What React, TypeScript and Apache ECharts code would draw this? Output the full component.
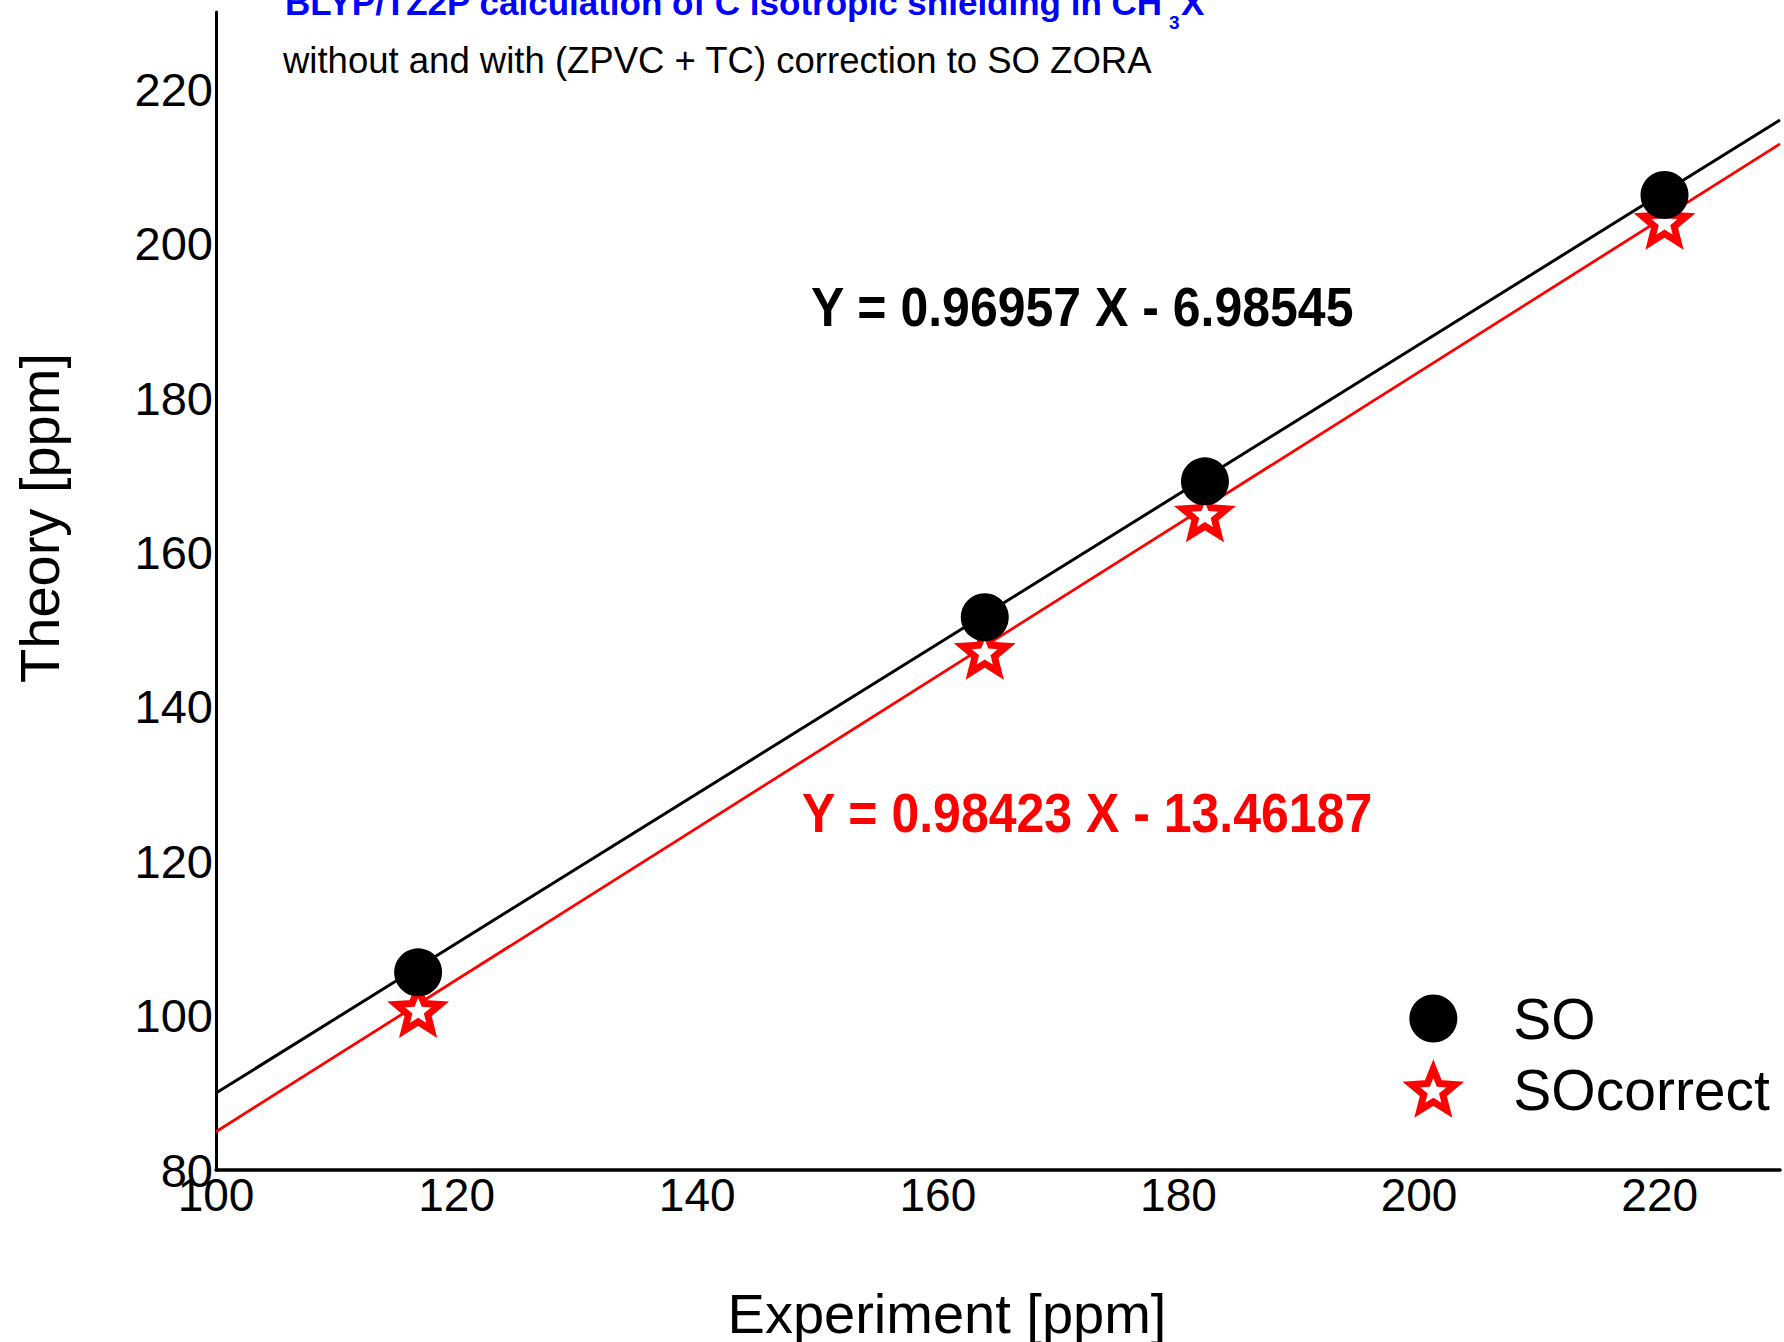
import React, { useEffect, useRef } from 'react';
import * as echarts from 'echarts';

// ---- data ----
const experiment = [116.8, 163.9, 182.2, 220.4];
const theorySO = [105.6, 151.6, 169.2, 206.3];
const theorySOcorrect = [100.8, 147.2, 165.0, 202.9];
const fitX = [100, 230];
const fitSO = [89.97, 216.02];
const fitSOcorrect = [84.96, 212.91];
const xTicks = [100, 120, 140, 160, 180, 200, 220];
const yTicks = [80, 100, 120, 140, 160, 180, 200, 220];
const xMax = 230;
const yMax = 230;
const seriesNames = ['SO', 'SOcorrect'];
const eqSO = 'Y = 0.96957 X - 6.98545';
const eqCorrect = 'Y = 0.98423 X - 13.46187';
const titleMain = 'BLYP/TZ2P calculation of C isotropic shielding in CH';
const titleSub = '3';
const titleTail = 'X';
const subtitle = 'without and with (ZPVC + TC) correction to SO ZORA';
const xName = 'Experiment [ppm]';
const yName = 'Theory [ppm]';

const FONT = '"Liberation Sans", Arial, Helvetica, sans-serif';
const STAR_D =
  'M50 0 L62.93 32.2 L97.55 34.55 L70.92 56.8 L79.39 90.45 L50 72 L20.61 90.45 L29.08 56.8 L2.45 34.55 L37.07 32.2 Z';
const STAR = 'path://' + STAR_D;
// legend icon: same star, with invisible bounds so it is drawn a little smaller in its box
const STAR_LEGEND = 'path://M50 -7 Z M50 97.5 Z ' + STAR_D;

function txt(x: number, y: number, text: string, size: number, color: string, weight: string, extra: any = {}) {
  return {
    type: 'text',
    x,
    y,
    ...extra,
    style: {
      text,
      fontSize: size,
      fontWeight: weight,
      fontFamily: FONT,
      fill: color,
      textAlign: extra.align || 'left',
      align: extra.align || 'left',
      textVerticalAlign: 'middle',
      verticalAlign: 'middle',
    },
  };
}

export default function App() {
  const ref = useRef<HTMLDivElement>(null);
  useEffect(() => {
    if (!ref.current) return;
    const chart = echarts.init(ref.current, null, { renderer: 'svg' });
    const labelFmt = (v: number) => (v % 20 === 0 ? String(v) : '');
    chart.setOption({
      animation: false,
      backgroundColor: '#ffffff',
      grid: { left: 216, right: 4, top: 12, bottom: 172, containLabel: false },
      xAxis: {
        type: 'value',
        min: xTicks[0],
        max: xMax,
        interval: xTicks[1] - xTicks[0],
        axisLine: { onZero: false, lineStyle: { color: '#000', width: 3.5 } },
        axisTick: { show: false },
        splitLine: { show: false },
        axisLabel: {
          fontSize: 46,
          fontFamily: FONT,
          color: '#000',
          margin: 2,
          showMaxLabel: false,
          formatter: labelFmt,
        },
      },
      yAxis: {
        type: 'value',
        min: yTicks[0],
        max: yMax,
        interval: yTicks[1] - yTicks[0],
        axisLine: { show: true, onZero: false, lineStyle: { color: '#000', width: 3 } },
        axisTick: { show: false },
        splitLine: { show: false },
        axisLabel: {
          fontSize: 47,
          fontFamily: FONT,
          color: '#000',
          margin: 3,
          showMaxLabel: false,
          formatter: labelFmt,
        },
      },
      legend: {
        orient: 'vertical',
        left: 1408,
        top: 990,
        itemWidth: 150,
        itemHeight: 48,
        itemGap: 14,
        padding: 0,
        textStyle: { fontSize: 57, color: '#000', fontFamily: FONT },
        data: [
          { name: seriesNames[0], icon: 'circle', itemStyle: { color: '#000', borderWidth: 0 } },
          {
            name: seriesNames[1],
            icon: STAR_LEGEND,
            itemStyle: { color: '#fff', borderColor: '#ff0000', borderWidth: 7 },
          },
        ],
      },
      series: [
        {
          name: 'fitSO',
          type: 'line',
          data: fitX.map((x, i) => [x, fitSO[i]]),
          showSymbol: false,
          symbol: 'none',
          silent: true,
          lineStyle: { color: '#000', width: 3 },
          z: 1,
        },
        {
          name: 'fitSOcorrect',
          type: 'line',
          data: fitX.map((x, i) => [x, fitSOcorrect[i]]),
          showSymbol: false,
          symbol: 'none',
          silent: true,
          lineStyle: { color: '#ff0000', width: 2.8 },
          z: 1,
        },
        {
          name: seriesNames[1],
          type: 'scatter',
          data: experiment.map((x, i) => [x, theorySOcorrect[i]]),
          symbol: STAR,
          symbolSize: 44,
          symbolKeepAspect: true,
          itemStyle: { color: '#fff', borderColor: '#ff0000', borderWidth: 7, opacity: 1 },
          z: 3,
        },
        {
          name: seriesNames[0],
          type: 'scatter',
          data: experiment.map((x, i) => [x, theorySO[i]]),
          symbol: 'circle',
          symbolSize: 48,
          itemStyle: { color: '#000', opacity: 1 },
          z: 4,
        },
      ],
      graphic: [
        txt(285, 2, titleMain, 35, '#0000ff', 'bold'),
        txt(1169, 22, titleSub, 19, '#0000ff', 'bold'),
        txt(1181, 2, titleTail, 35, '#0000ff', 'bold'),
        txt(283, 60.5, subtitle, 36.5, '#000', 'normal'),
        txt(811, 307, eqSO, 50, '#000', 'bold', { scaleY: 1.1 }),
        txt(802, 813, eqCorrect, 50, '#ff0000', 'bold', { scaleY: 1.1 }),
        txt(947, 1313, xName, 56, '#000', 'normal', { align: 'center' }),
        txt(39, 518, yName, 56, '#000', 'normal', { align: 'center', rotation: Math.PI / 2 }),
      ],
    });
    return () => chart.dispose();
  }, []);
  return (
    <div
      ref={ref}
      style={{ position: 'absolute', left: 0, top: 0, width: 1784, height: 1342, background: '#fff' }}
    />
  );
}
